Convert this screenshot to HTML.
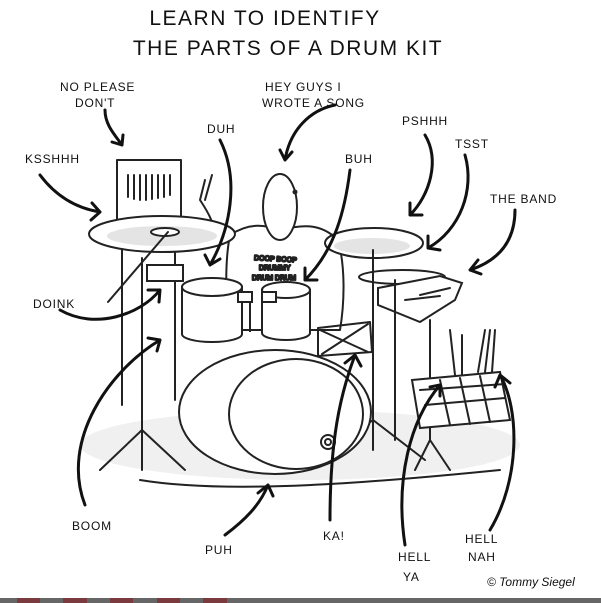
<!DOCTYPE html>
<html><head><meta charset="utf-8"><style>
html,body{margin:0;padding:0;background:#fff;width:601px;height:603px;overflow:hidden}
svg{display:block}
text{font-family:"Liberation Sans",sans-serif;fill:#111}
.t{font-size:21px;letter-spacing:1.5px}
.l{font-size:12px;letter-spacing:0.8px}
.s{fill:none;stroke:#222;stroke-width:2;stroke-linecap:round;stroke-linejoin:round}
.a{fill:none;stroke:#111;stroke-width:3;stroke-linecap:round;stroke-linejoin:round}
.w{fill:#fff;stroke:#222;stroke-width:2}
.g{fill:#e4e4e4;stroke:none}
</style></head><body>
<svg width="601" height="603" viewBox="0 0 601 603">
<text class="t" x="265" y="25" text-anchor="middle">LEARN TO IDENTIFY</text>
<text class="t" x="288" y="55" text-anchor="middle">THE PARTS OF A DRUM KIT</text>

<text class="l" x="60" y="91">NO PLEASE</text><text class="l" x="75" y="107">DON'T</text>
<text class="l" x="265" y="91">HEY GUYS I</text><text class="l" x="262" y="107">WROTE A SONG</text>
<text class="l" x="207" y="133">DUH</text>
<text class="l" x="402" y="125">PSHHH</text>
<text class="l" x="455" y="148">TSST</text>
<text class="l" x="25" y="163">KSSHHH</text>
<text class="l" x="345" y="163">BUH</text>
<text class="l" x="490" y="203">THE BAND</text>
<text class="l" x="33" y="308">DOINK</text>
<text class="l" x="72" y="530">BOOM</text>
<text class="l" x="205" y="554">PUH</text>
<text class="l" x="323" y="540">KA!</text>
<text class="l" x="398" y="561">HELL</text><text class="l" x="403" y="581">YA</text>
<text class="l" x="465" y="543">HELL</text><text class="l" x="468" y="561">NAH</text>
<text x="487" y="586" style="font-size:12px;font-style:italic">© Tommy Siegel</text>

<ellipse cx="300" cy="445" rx="220" ry="35" fill="#f0f0f0"/>

<g class="s">
<rect x="117" y="160" width="64" height="62" class="w"/>
<path d="M128 175v22M134 175v24M140 175v25M146 175v25M152 175v24M158 175v23M164 175v22M170 175v20"/>
<path d="M122 222 L122 405 M175 222 L175 400"/>
<path d="M200 200 L205 180 M205 200 L212 175 M200 200 C210 215 215 225 215 240"/>
</g>
<g class="s">
<path class="w" d="M230 235 C250 222 265 225 280 230 C300 225 320 222 338 240 C345 265 345 300 340 330 L230 330 C225 300 225 260 230 235 Z"/>
<ellipse cx="280" cy="207" rx="17" ry="33" class="w"/>
<circle cx="295" cy="192" r="1.5" fill="#222"/>
<text x="254" y="260" style="font-size:7px" transform="rotate(3 254 260)">DOOP BOOP</text>
<text x="259" y="270" style="font-size:7px">DRUMMY</text>
<text x="252" y="280" style="font-size:7px">DRUM DRUM</text>
</g>
<ellipse cx="162" cy="234" rx="73" ry="18" class="w"/>
<ellipse cx="162" cy="236" rx="55" ry="10" class="g"/>
<ellipse cx="165" cy="232" rx="14" ry="4" class="w"/>
<ellipse cx="374" cy="243" rx="49" ry="15" class="w"/>
<ellipse cx="372" cy="246" rx="38" ry="8" class="g"/>
<ellipse cx="402" cy="277" rx="43" ry="7" class="w"/>
<path class="w" d="M378 288 L440 276 L462 283 L455 300 L420 322 L378 305 Z"/>
<path class="s" d="M420 295 L450 288 M405 300 L440 296"/>
<rect x="147" y="265" width="36" height="16" class="w"/>
<path class="s" d="M108 302 L168 232"/>
<g class="s">
<path d="M142 258 L142 455 M100 470 L142 430 L185 470 M142 430 L142 470"/>
<path d="M373 250 L373 450 M320 460 L373 420 L425 460"/>
<path d="M395 280 L395 440"/>
<path d="M430 320 L430 440 L415 470 M430 440 L450 470"/>
</g>
<path class="w" d="M182 287 L182 334 A30 8 0 0 0 242 334 L242 287 Z"/>
<ellipse cx="212" cy="287" rx="30" ry="9" class="w"/>
<path class="w" d="M262 290 L262 333 A24 7 0 0 0 310 333 L310 290 Z"/>
<ellipse cx="286" cy="290" rx="24" ry="8" class="w"/>
<path class="w" d="M238 292 h14 v10 h-14z M262 292 h14 v10 h-14z M250 302 v30"/>
<path class="s" d="M318 328 L370 322 L372 352 L318 356 Z M320 330 L368 352 M368 324 L322 354"/>
<ellipse cx="275" cy="412" rx="96" ry="62" class="w"/>
<ellipse cx="296" cy="414" rx="67" ry="55" class="w"/>
<circle cx="328" cy="442" r="7" class="w"/>
<circle cx="328" cy="442" r="3" class="s"/>
<path class="s" d="M455 375 L450 330 M462 375 L462 335 M478 372 L485 330 M485 372 L490 330 M492 372 L495 330"/>
<path class="w" d="M412 380 L500 372 L510 420 L420 428 Z"/>
<path class="s" d="M420 390 L505 384 M425 405 L505 398 M440 380 L450 425 M460 378 L470 424 M480 376 L490 422"/>
<path class="s" d="M140 480 C230 495 380 482 500 470"/>
<g class="a">
<path d="M105 110 C105 125 115 135 122 145 M112 142 l10 3 l1 -10"/>
<path d="M335 105 C310 110 290 130 285 160 M280 150 l5 10 l7 -8"/>
<path d="M220 140 C240 180 230 230 210 265 M205 255 l5 10 l10 -6"/>
<path d="M425 135 C440 160 430 195 410 215 M410 203 l0 12 l12 0"/>
<path d="M465 155 C475 190 460 230 428 248 M428 236 l0 12 l12 2"/>
<path d="M40 175 C55 195 75 208 100 212 M92 203 l8 9 l-9 8"/>
<path d="M350 170 C345 210 335 250 305 280 M305 268 l0 12 l12 0"/>
<path d="M515 210 C515 240 500 260 470 270 M478 260 l-8 10 l11 4"/>
<path d="M60 310 C95 330 140 315 160 290 M148 290 l12 0 l-1 12"/>
<path d="M85 505 C60 440 110 370 160 340 M148 338 l12 2 l-3 11"/>
<path d="M225 535 C245 520 260 505 268 485 M258 493 l10 -8 l5 11"/>
<path d="M330 520 C330 440 340 395 355 355 M345 363 l10 -8 l6 11"/>
<path d="M405 545 C395 480 410 420 440 385 M430 387 l10 -2 l0 11"/>
<path d="M490 530 C520 480 520 410 500 375 M495 387 l5 -12 l10 8"/>
</g>
<rect x="0" y="598" width="601" height="5" fill="#666"/>
<rect x="17" y="598" width="23" height="5" fill="#7a3a3e"/>
<rect x="63" y="598" width="24" height="5" fill="#7a3a3e"/>
<rect x="110" y="598" width="23" height="5" fill="#7a3a3e"/>
<rect x="157" y="598" width="23" height="5" fill="#7a3a3e"/>
<rect x="203" y="598" width="24" height="5" fill="#7a3a3e"/>
</svg>
</body></html>
